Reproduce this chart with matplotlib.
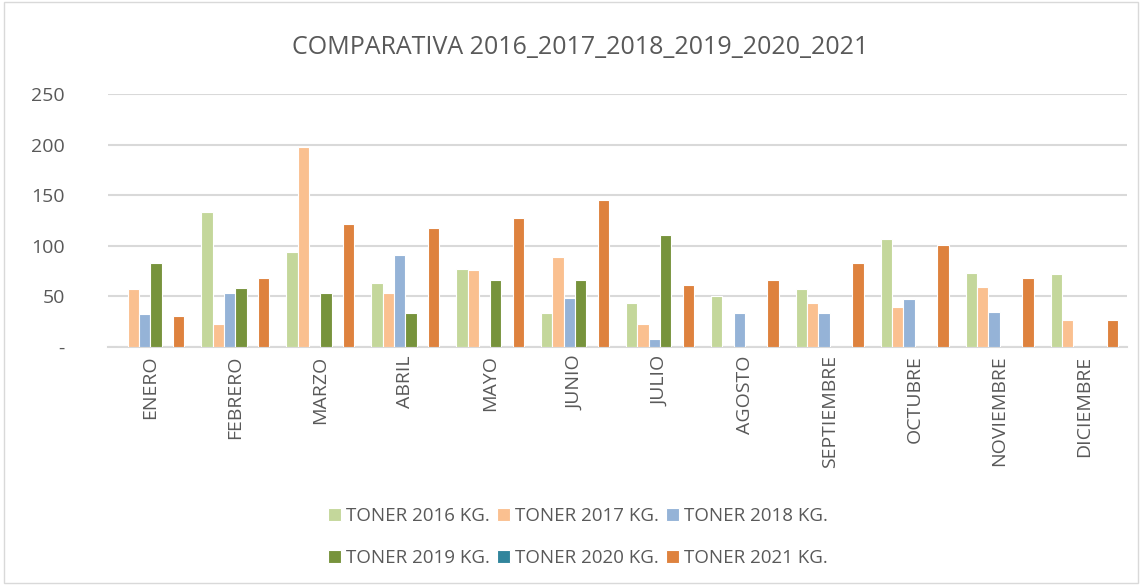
import matplotlib
matplotlib.use("Agg")
import matplotlib.pyplot as plt
import numpy as np
from matplotlib.patches import Rectangle
from matplotlib.ticker import FuncFormatter

months = ["ENERO", "FEBRERO", "MARZO", "ABRIL", "MAYO", "JUNIO", "JULIO",
          "AGOSTO", "SEPTIEMBRE", "OCTUBRE", "NOVIEMBRE", "DICIEMBRE"]
series_names = ["TONER 2016 KG.", "TONER 2017 KG.", "TONER 2018 KG.",
                "TONER 2019 KG.", "TONER 2020 KG.", "TONER 2021 KG."]
toner_2016 = [0, 133, 94, 63, 77, 34, 43, 50, 57, 107, 73, 72]
toner_2017 = [57, 23, 198, 53, 76, 89, 23, 0, 43, 40, 59, 27]
toner_2018 = [33, 53, 0, 91, 0, 48, 8, 34, 34, 47, 35, 0]
toner_2019 = [83, 58, 53, 34, 66, 66, 111, 0, 0, 0, 0, 0]
toner_2020 = [0, 0, 0, 0, 0, 0, 0, 0, 0, 0, 0, 0]
toner_2021 = [31, 68, 122, 118, 127, 145, 61, 66, 83, 101, 68, 27]
y_ticks = [0, 50, 100, 150, 200, 250]

colors = ["#C4D79B", "#FAC090", "#95B3D7", "#77933C", "#31859C", "#DE823E"]
data = [toner_2016, toner_2017, toner_2018, toner_2019, toner_2020, toner_2021]

plt.rcParams['font.family'] = ['Open Sans', 'DejaVu Sans']
fig = plt.figure(figsize=(11.42, 5.85), dpi=100)
ax = fig.add_axes([108/1142, 1 - 347/585, (1127-108)/1142, (347-94)/585])

x = np.arange(len(months))
n = len(data)
slot = 0.133
for i, (vals, c, name) in enumerate(zip(data, colors, series_names)):
    ax.bar(x + (i - (n - 1) / 2) * slot, vals, width=slot, color=c,
           edgecolor="white", linewidth=0.8, label=name, zorder=3)

ax.set_xlim(-0.5, len(months) - 0.5)
ax.set_ylim(0, 250)
ax.set_yticks(y_ticks)
ax.yaxis.set_major_formatter(FuncFormatter(lambda v, p: "-" if v == 0 else f"{int(v)}"))
ax.grid(axis="y", color="#D9D9D9", linewidth=1.5, zorder=0)
for s in ["top", "right", "left"]:
    ax.spines[s].set_visible(False)
ax.spines["bottom"].set_color("#D9D9D9")
ax.spines["bottom"].set_linewidth(1.5)
ax.tick_params(axis="y", length=0, labelsize=14, labelcolor="#595959", pad=31)
ax.tick_params(axis="x", length=0, labelsize=14, labelcolor="#595959", pad=6)
ax.set_xticks(x)
ax.set_xticklabels(months, rotation=90)

fig.text(0.508, 1 - 47/585, "COMPARATIVA 2016_2017_2018_2019_2020_2021",
         ha="center", va="center", fontsize=18, color="#595959")

handles, labels = ax.get_legend_handles_labels()
order = [0, 3, 1, 4, 2, 5]
leg = fig.legend([handles[k] for k in order], [labels[k] for k in order],
                 loc="center", bbox_to_anchor=(0.506, 1 - 537/585),
                 ncol=3, frameon=False, fontsize=13.5, handlelength=0.7, handleheight=0.7,
                 handletextpad=0.25, columnspacing=0.4, labelspacing=1.3, labelcolor="#595959")

fig.patches.append(Rectangle((4/1142, 2/585), 1 - 8/1142, 1 - 4/585, transform=fig.transFigure,
                             fill=False, edgecolor="#D9D9D9", linewidth=1))

fig.savefig("out.png", dpi=100, facecolor="white")
